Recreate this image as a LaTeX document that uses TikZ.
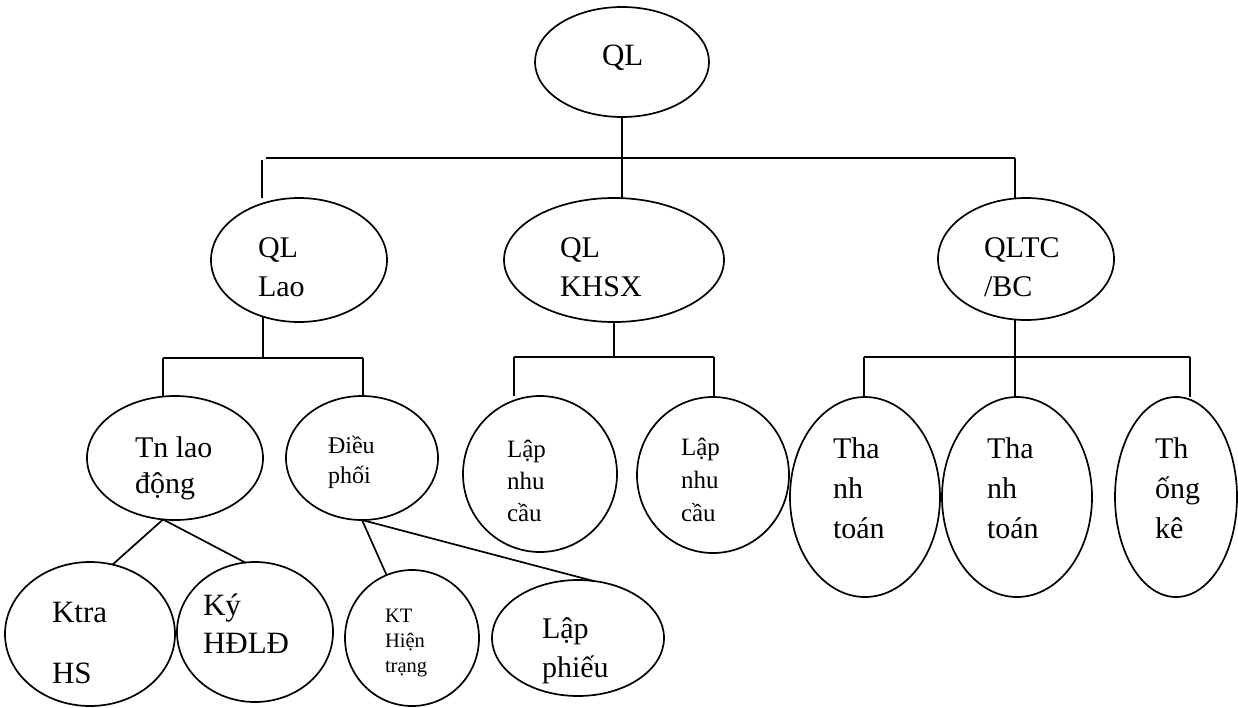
\documentclass[tikz,border=0pt]{standalone}
\usepackage{fontspec}
\setmainfont{Liberation Serif}
\usetikzlibrary{shapes.geometric}
\tikzset{
  ell/.style={draw, ellipse, line width=1.7pt, inner sep=0pt, outer sep=0pt},
  lbl/.style={anchor=base west, align=left, inner sep=0pt, outer sep=0pt},
  con/.style={line width=1.7pt},
}
\newcommand{\fs}[2]{\fontsize{#1}{#2}\selectfont}
\begin{document}
\begin{tikzpicture}[x=1pt,y=-1pt]
\useasboundingbox (0,0) rectangle (1238,707);
% ellipses
\node[ell, minimum width=174, minimum height=110] (ql) at (622,62) {};
\node[ell, minimum width=176, minimum height=124] (lao) at (299,260) {};
\node[ell, minimum width=220, minimum height=124] (khsx) at (614,260) {};
\node[ell, minimum width=176, minimum height=122] (qltc) at (1026,259) {};
\node[ell, minimum width=176, minimum height=124] (tn) at (175,458) {};
\node[ell, minimum width=152, minimum height=124] (dp) at (362,458) {};
\node[ell, minimum width=154, minimum height=156] (ln1) at (540,474) {};
\node[ell, minimum width=152, minimum height=156] (ln2) at (713,475) {};
\node[ell, minimum width=150, minimum height=200] (tt1) at (865,497) {};
\node[ell, minimum width=150, minimum height=200] (tt2) at (1017,497) {};
\node[ell, minimum width=122, minimum height=200] (tk) at (1176,497) {};
\node[ell, minimum width=170, minimum height=144] (ktra) at (90,634) {};
\node[ell, minimum width=156, minimum height=140] (ky) at (255,632) {};
\node[ell, minimum width=134, minimum height=136] (kt) at (412,638) {};
\node[ell, minimum width=172, minimum height=116] (lp) at (578,638) {};
% labels (anchor = baseline of the last line)
\node[lbl, font=\fs{31}{40}] (qlT) at (602,65) {QL};
\node[lbl, font=\fs{30}{39}] (laoT) at (258,296) {QL\\Lao};
\node[lbl, font=\fs{30}{39}] (khsxT) at (560,296) {QL\\KHSX};
\node[lbl, font=\fs{30}{39}] (qltcT) at (984,296) {QLTC\\/BC};
\node[lbl, font=\fs{30}{36}] (tnT) at (135,493) {Tn lao\\động};
\node[lbl, font=\fs{24}{30}] (dpT) at (328,483) {Điều\\phối};
\node[lbl, font=\fs{25}{32}] (ln1T) at (507,521) {Lập\\nhu\\cầu};
\node[lbl, font=\fs{25}{33}] (ln2T) at (681,521) {Lập\\nhu\\cầu};
\node[lbl, font=\fs{30}{40}] (tt1T) at (833,538) {Tha\\nh\\toán};
\node[lbl, font=\fs{30}{40}] (tt2T) at (987,538) {Tha\\nh\\toán};
\node[lbl, font=\fs{30}{40}] (tkT) at (1155,538) {Th\\ống\\kê};
\node[lbl, font=\fs{31}{61}] (ktraT) at (52,683) {Ktra\\HS};
\node[lbl, font=\fs{31}{38}] (kyT) at (203,653) {Ký\\HĐLĐ};
\node[lbl, font=\fs{20.5}{25}] (ktT) at (385,672) {KT\\Hiện\\trạng};
\node[lbl, font=\fs{30}{39}] (lpT) at (542,677) {Lập\\phiếu};
% bus coordinates
\coordinate (b0L) at (266,158);
\coordinate (b0M) at (621,158);
\coordinate (b0R) at (1015,158);
\coordinate (aL) at (262,160);
\coordinate (b1L) at (163,358);
\coordinate (b1M) at (263,358);
\coordinate (b1R) at (363,358);
\coordinate (b2L) at (514,357);
\coordinate (b2M) at (614,357);
\coordinate (b2R) at (714,357);
\coordinate (b3L) at (864,357);
\coordinate (b3M) at (1015,357);
\coordinate (b3R) at (1190,357);
% top level
\draw[con] (ql.south) -- (ql.south |- khsx.north);
\draw[con] (b0L) -- (b0R);
\draw[con] (aL) -- (aL |- lao.north);
\draw[con] (b0R) -- (b0R |- qltc.north);
% QL Lao
\draw[con] (b1M |- lao.237) -- (b1M);
\draw[con] (b1L) -- (b1R);
\draw[con] (b1L) -- (b1L |- tn.north);
\draw[con] (b1R) -- (b1R |- dp.north);
% QL KHSX
\draw[con] (khsx.south) -- (b2M);
\draw[con] (b2L) -- (b2R);
\draw[con] (b2L) -- (b2L |- ln1.north);
\draw[con] (b2R) -- (b2R |- ln2.north);
% QLTC
\draw[con] (b3M |- qltc.260) -- (b3M);
\draw[con] (b3L) -- (b3R);
\draw[con] (b3L) -- (b3L |- tt1.north);
\draw[con] (b3M) -- (b3M |- tt2.north);
\draw[con] (b3R) -- (b3R |- tk.north);
% lower level
\draw[con] (tn.259) -- (ktra.72);
\draw[con] (tn.259) -- (ky.98);
\draw[con] (dp.south) -- (kt.112);
\draw[con] (dp.south) -- (lp.75);
\end{tikzpicture}
\end{document}
